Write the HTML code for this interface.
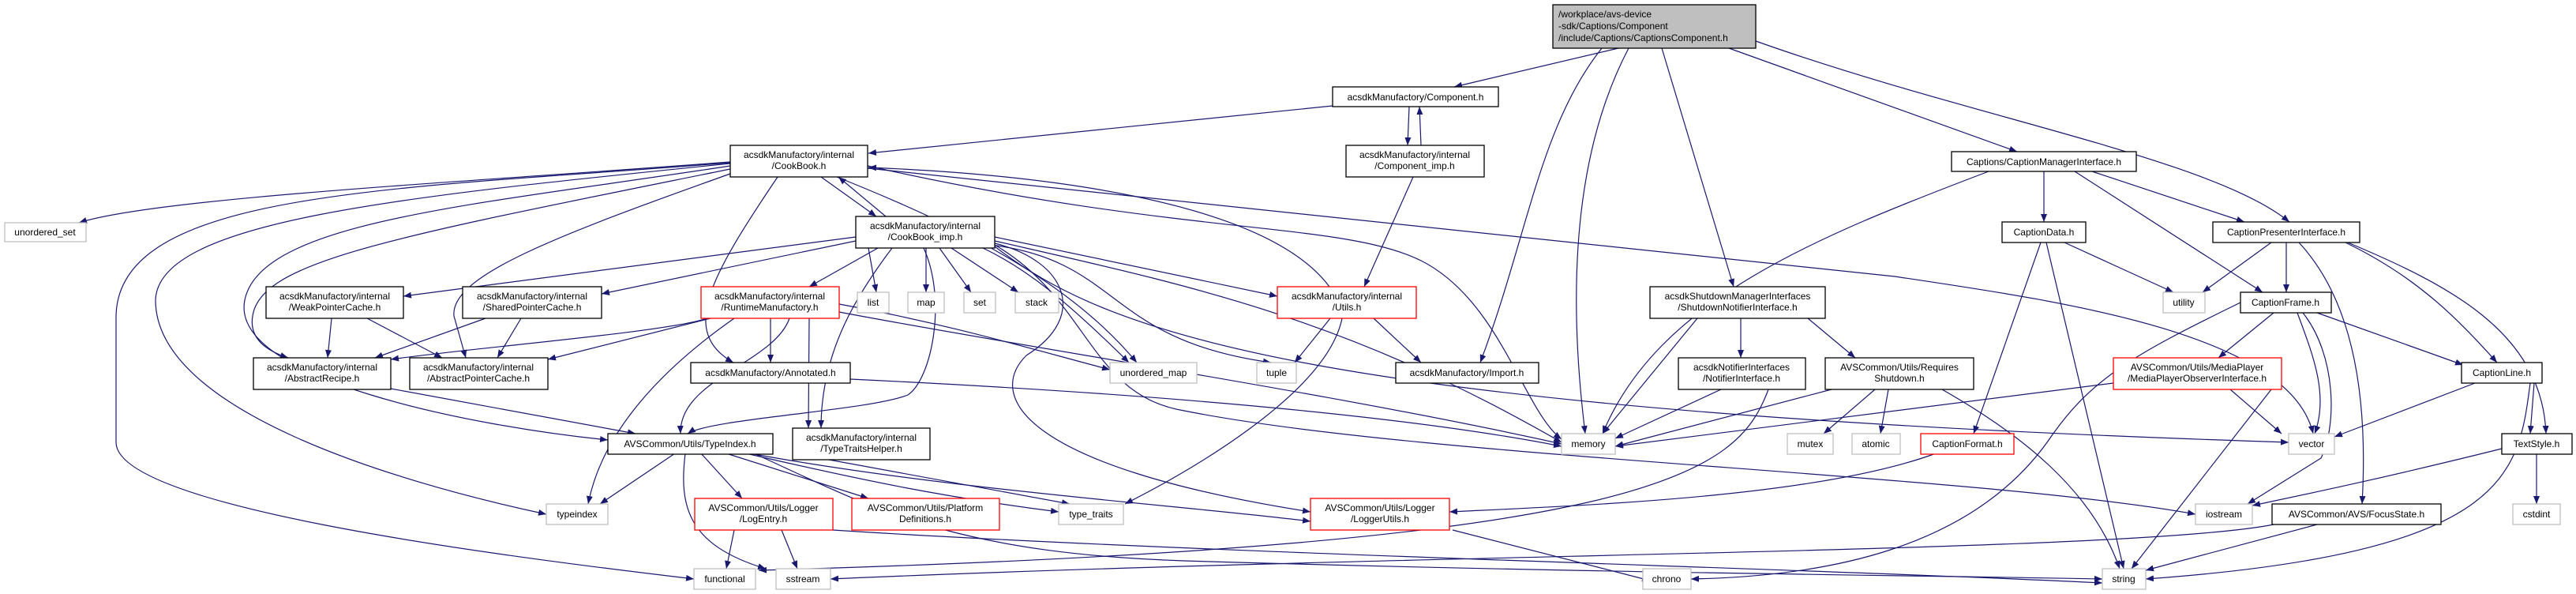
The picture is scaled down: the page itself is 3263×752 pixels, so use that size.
<!DOCTYPE html>
<html><head><meta charset="utf-8"><style>
html,body{margin:0;padding:0;background:#fff;}
svg{display:block;}
text{font-family:"Liberation Sans",sans-serif;font-size:12px;fill:#000;}
.e{fill:none;stroke:#191970;stroke-width:1.2;}
.n{fill:#fff;stroke:#000;stroke-width:1.3;}
.g{fill:#fff;stroke:#bfbfbf;stroke-width:1.3;}
.r{fill:#fff;stroke:#ff0000;stroke-width:1.3;}
</style></head><body>
<svg width="3263" height="752" viewBox="0 0 3263 752" xmlns="http://www.w3.org/2000/svg">
<defs><marker id="a" viewBox="0 0 10 8" refX="10" refY="4" markerWidth="10" markerHeight="8" markerUnits="userSpaceOnUse" orient="auto"><path d="M0,0 L10,4 L0,8 z" fill="#191970"/></marker></defs>
<g class="e" marker-end="url(#a)">
<!-- main -->
<path d="M2050,61 L1842,110"/>
<path d="M2029,61 C1950,160 1935,300 1875,459"/>
<path d="M2063,61 C1990,200 1987,380 2008,549"/>
<path d="M2105,61 L2196,363"/>
<path d="M2190,61 L2555,192"/>
<path d="M2224,52 C2500,150 2800,200 2900,281"/>
<!-- component -->
<path d="M1688,134 L1100,194"/>
<path d="M1785,135 L1783,184"/>
<path d="M1800,184 L1798,135"/>
<path d="M1790,224 L1728,363"/>
<!-- cookbook -->
<path d="M925,205 C600,230 200,250 100,282"/>
<path d="M925,206 C500,240 150,240 147,400 L147,560 C147,640 600,700 879,733"/>
<path d="M925,207 C500,250 200,280 197,380 C197,520 500,610 692,651"/>
<path d="M925,210 C600,260 330,280 310,380 C290,480 600,540 770,557"/>
<path d="M925,214 C500,300 330,330 320,400 C315,430 340,445 365,453"/>
<path d="M925,220 C700,300 570,350 575,400 L590,453"/>
<path d="M1040,224 L1110,274"/>
<path d="M1122,274 L1062,224"/>
<path d="M985,224 C900,350 860,420 929,459"/>
<path d="M1060,224 C1200,280 1350,350 1440,459"/>
<path d="M1099,210 C1500,300 1700,280 1800,330 C1900,380 1930,520 1978,556"/>
<path d="M1099,213 L2400,350 C2600,380 2900,420 2930,549"/>
<!-- cookbook_imp -->
<path d="M1100,314 L1110,370"/>
<path d="M1173,314 L1173,370"/>
<path d="M1190,314 L1230,370"/>
<path d="M1205,314 L1290,370"/>
<path d="M1084,300 L511,375"/>
<path d="M1084,305 L762,372"/>
<path d="M1112,314 L1025,363"/>
<path d="M1260,300 L1618,375"/>
<path d="M1245,314 C1300,340 1350,380 1430,459"/>
<path d="M1255,310 C1420,330 1400,430 1610,459"/>
<path d="M1260,305 C1500,360 1700,400 1978,560"/>
<path d="M1260,308 C1350,330 1380,400 1300,450 C1250,500 1290,590 1660,648"/>
<path d="M1260,310 C1380,380 1380,500 1500,520 C1800,580 2500,600 2781,651"/>
<path d="M1260,312 C1400,420 1650,520 2899,560"/>
<path d="M1130,314 C1080,380 1040,450 1040,542"/>
<path d="M1170,314 C1200,380 1180,480 1150,500 C1100,520 900,530 871,549"/>
<!-- utils -->
<path d="M1684,363 C1600,250 1300,220 1100,212"/>
<path d="M1685,403 L1640,459"/>
<path d="M1740,403 L1800,459"/>
<path d="M1700,403 C1680,500 1500,600 1425,638"/>
<!-- runtime -->
<path d="M900,403 L694,455"/>
<path d="M895,403 C850,420 600,440 495,455"/>
<path d="M976,403 L976,459"/>
<path d="M1000,403 C980,460 860,480 862,549"/>
<path d="M930,403 C820,480 760,560 745,638"/>
<path d="M1063,385 C1200,410 1300,440 1406,468"/>
<path d="M1063,395 C1300,440 1700,500 1978,562"/>
<path d="M1025,403 L1024,542"/>
<!-- weak/shared -->
<path d="M420,403 L415,453"/>
<path d="M465,403 L560,453"/>
<path d="M615,403 L475,453"/>
<path d="M660,403 L630,453"/>
<path d="M495,492 L805,549"/>
<path d="M1077,480 C1500,500 1800,530 1978,565"/>
<!-- typeindex -->
<path d="M855,574 L760,638"/>
<path d="M868,574 C860,640 870,690 970,720"/>
<path d="M888,574 L940,631"/>
<path d="M920,574 L1100,631"/>
<path d="M945,574 C1100,610 1200,630 1341,648"/>
<path d="M950,574 C1200,620 1500,640 1660,660"/>
<path d="M955,574 C1100,640 1200,700 1500,710 C2000,725 2400,728 2663,733"/>
<path d="M1050,582 L1355,638"/>
<path d="M930,671 L920,720"/>
<path d="M990,671 L1010,720"/>
<path d="M1055,671 C1500,700 2300,720 2663,738"/>
<path d="M1840,671 L2090,735"/>
<!-- right region -->
<path d="M2452,574 C2300,630 2000,640 1836,648"/>
<path d="M2838,383 C2700,450 2650,480 2600,550 C2500,700 2300,730 2142,733"/>
<path d="M2880,664 C2700,700 1800,700 1052,733"/>
<path d="M2240,493 C2200,600 2100,690 961,722"/>
<path d="M2150,403 L2030,549"/>
<path d="M2205,403 L2205,453"/>
<path d="M2290,403 L2350,453"/>
<path d="M2180,493 L2046,555"/>
<path d="M2320,493 L2046,565"/>
<path d="M2375,493 L2310,549"/>
<path d="M2392,493 L2382,549"/>
<path d="M2460,493 C2560,550 2650,620 2685,720"/>
<path d="M2519,217 C2300,300 2100,380 2030,549"/>
<path d="M2589,217 L2589,281"/>
<path d="M2650,217 L2843,281"/>
<path d="M2628,217 L2866,370"/>
<path d="M2615,307 L2753,370"/>
<path d="M2585,307 L2500,549"/>
<path d="M2592,307 L2690,720"/>
<path d="M2877,307 L2790,370"/>
<path d="M2896,307 L2896,370"/>
<path d="M2971,307 C3060,350 3110,400 3163,459"/>
<path d="M2974,307 C3100,360 3220,420 3225,549"/>
<path d="M2912,307 C2980,380 3000,500 2992,638"/>
<path d="M2880,396 L2810,453"/>
<path d="M2910,396 C2930,450 2950,500 2932,549"/>
<path d="M2917,396 C2960,450 2960,540 2940,580 L2847,638"/>
<path d="M2935,396 L3120,462"/>
<path d="M2877,493 L2700,720"/>
<path d="M2825,493 L2890,549"/>
<path d="M2677,485 L2046,565"/>
<path d="M3135,485 L2957,553"/>
<path d="M3210,485 L3205,549"/>
<path d="M3205,485 C3190,600 3180,700 2718,733"/>
<path d="M3169,568 C3000,610 2900,630 2853,640"/>
<path d="M3213,574 L3213,638"/>
<path d="M2935,664 L2718,722"/>
</g>
<!-- nodes -->
<rect x="1967" y="6" width="257" height="55" fill="#bfbfbf" stroke="#000" stroke-width="1.3"/>
<text x="1974" y="22">/workplace/avs-device</text><text x="1974" y="37">-sdk/Captions/Component</text><text x="1974" y="52">/include/Captions/CaptionsComponent.h</text>
<g font-size="12">
<rect class="n" x="1688" y="110" width="210" height="25"/><text x="1793" y="127" text-anchor="middle">acsdkManufactory/Component.h</text>
<rect class="n" x="1705" y="184" width="175" height="40"/><text x="1792" y="200" text-anchor="middle">acsdkManufactory/internal</text><text x="1792" y="214" text-anchor="middle">/Component_imp.h</text>
<rect class="n" x="925" y="184" width="174" height="40"/><text x="1012" y="200" text-anchor="middle">acsdkManufactory/internal</text><text x="1012" y="214" text-anchor="middle">/CookBook.h</text>
<rect class="n" x="1084" y="274" width="176" height="40"/><text x="1172" y="290" text-anchor="middle">acsdkManufactory/internal</text><text x="1172" y="304" text-anchor="middle">/CookBook_imp.h</text>
<rect class="g" x="6" y="282" width="103" height="24"/><text x="57" y="298" text-anchor="middle">unordered_set</text>
<rect class="n" x="337" y="363" width="174" height="40"/><text x="424" y="379" text-anchor="middle">acsdkManufactory/internal</text><text x="424" y="393" text-anchor="middle">/WeakPointerCache.h</text>
<rect class="n" x="586" y="363" width="176" height="40"/><text x="674" y="379" text-anchor="middle">acsdkManufactory/internal</text><text x="674" y="393" text-anchor="middle">/SharedPointerCache.h</text>
<rect class="r" x="888" y="363" width="175" height="40"/><text x="975" y="379" text-anchor="middle">acsdkManufactory/internal</text><text x="975" y="393" text-anchor="middle">/RuntimeManufactory.h</text>
<rect class="g" x="1086" y="370" width="40" height="26"/><text x="1106" y="387" text-anchor="middle">list</text>
<rect class="g" x="1150" y="370" width="46" height="26"/><text x="1173" y="387" text-anchor="middle">map</text>
<rect class="g" x="1221" y="370" width="40" height="26"/><text x="1241" y="387" text-anchor="middle">set</text>
<rect class="g" x="1286" y="370" width="55" height="26"/><text x="1313" y="387" text-anchor="middle">stack</text>
<rect class="r" x="1618" y="363" width="176" height="40"/><text x="1706" y="379" text-anchor="middle">acsdkManufactory/internal</text><text x="1706" y="393" text-anchor="middle">/Utils.h</text>
<rect class="n" x="2090" y="363" width="222" height="40"/><text x="2201" y="379" text-anchor="middle">acsdkShutdownManagerInterfaces</text><text x="2201" y="393" text-anchor="middle">/ShutdownNotifierInterface.h</text>
<rect class="n" x="321" y="453" width="174" height="40"/><text x="408" y="469" text-anchor="middle">acsdkManufactory/internal</text><text x="408" y="483" text-anchor="middle">/AbstractRecipe.h</text>
<rect class="n" x="519" y="453" width="175" height="40"/><text x="606" y="469" text-anchor="middle">acsdkManufactory/internal</text><text x="606" y="483" text-anchor="middle">/AbstractPointerCache.h</text>
<rect class="n" x="875" y="459" width="202" height="26"/><text x="976" y="476" text-anchor="middle">acsdkManufactory/Annotated.h</text>
<rect class="g" x="1406" y="459" width="110" height="26"/><text x="1461" y="476" text-anchor="middle">unordered_map</text>
<rect class="g" x="1592" y="459" width="50" height="26"/><text x="1617" y="476" text-anchor="middle">tuple</text>
<rect class="n" x="1768" y="459" width="181" height="26"/><text x="1858" y="476" text-anchor="middle">acsdkManufactory/Import.h</text>
<rect class="n" x="2126" y="453" width="161" height="40"/><text x="2206" y="469" text-anchor="middle">acsdkNotifierInterfaces</text><text x="2206" y="483" text-anchor="middle">/NotifierInterface.h</text>
<rect class="n" x="2312" y="453" width="188" height="40"/><text x="2406" y="469" text-anchor="middle">AVSCommon/Utils/Requires</text><text x="2406" y="483" text-anchor="middle">Shutdown.h</text>
<rect class="r" x="2677" y="453" width="213" height="40"/><text x="2783" y="469" text-anchor="middle">AVSCommon/Utils/MediaPlayer</text><text x="2783" y="483" text-anchor="middle">/MediaPlayerObserverInterface.h</text>
<rect class="n" x="3118" y="459" width="102" height="26"/><text x="3169" y="476" text-anchor="middle">CaptionLine.h</text>
<rect class="n" x="770" y="549" width="209" height="26"/><text x="874" y="566" text-anchor="middle">AVSCommon/Utils/TypeIndex.h</text>
<rect class="n" x="1004" y="542" width="174" height="40"/><text x="1091" y="558" text-anchor="middle">acsdkManufactory/internal</text><text x="1091" y="572" text-anchor="middle">/TypeTraitsHelper.h</text>
<rect class="g" x="1978" y="549" width="68" height="26"/><text x="2012" y="566" text-anchor="middle">memory</text>
<rect class="g" x="2264" y="549" width="58" height="26"/><text x="2293" y="566" text-anchor="middle">mutex</text>
<rect class="g" x="2346" y="549" width="61" height="26"/><text x="2376" y="566" text-anchor="middle">atomic</text>
<rect class="r" x="2433" y="549" width="118" height="26"/><text x="2492" y="566" text-anchor="middle">CaptionFormat.h</text>
<rect class="g" x="2899" y="549" width="58" height="26"/><text x="2928" y="566" text-anchor="middle">vector</text>
<rect class="n" x="3169" y="549" width="89" height="26"/><text x="3213" y="566" text-anchor="middle">TextStyle.h</text>
<rect class="g" x="692" y="638" width="78" height="26"/><text x="731" y="655" text-anchor="middle">typeindex</text>
<rect class="g" x="1341" y="638" width="82" height="26"/><text x="1382" y="655" text-anchor="middle">type_traits</text>
<rect class="r" x="880" y="631" width="175" height="40"/><text x="967" y="647" text-anchor="middle">AVSCommon/Utils/Logger</text><text x="967" y="661" text-anchor="middle">/LogEntry.h</text>
<rect class="r" x="1079" y="631" width="187" height="40"/><text x="1172" y="647" text-anchor="middle">AVSCommon/Utils/Platform</text><text x="1172" y="661" text-anchor="middle">Definitions.h</text>
<rect class="r" x="1660" y="631" width="176" height="40"/><text x="1748" y="647" text-anchor="middle">AVSCommon/Utils/Logger</text><text x="1748" y="661" text-anchor="middle">/LoggerUtils.h</text>
<rect class="g" x="2781" y="638" width="72" height="26"/><text x="2817" y="655" text-anchor="middle">iostream</text>
<rect class="n" x="2878" y="638" width="214" height="26"/><text x="2985" y="655" text-anchor="middle">AVSCommon/AVS/FocusState.h</text>
<rect class="g" x="3183" y="638" width="60" height="26"/><text x="3213" y="655" text-anchor="middle">cstdint</text>
<rect class="g" x="879" y="720" width="78" height="26"/><text x="918" y="737" text-anchor="middle">functional</text>
<rect class="g" x="983" y="720" width="69" height="26"/><text x="1017" y="737" text-anchor="middle">sstream</text>
<rect class="g" x="2081" y="720" width="61" height="26"/><text x="2111" y="737" text-anchor="middle">chrono</text>
<rect class="g" x="2663" y="720" width="55" height="26"/><text x="2690" y="737" text-anchor="middle">string</text>
<rect class="n" x="2472" y="192" width="234" height="25"/><text x="2589" y="209" text-anchor="middle">Captions/CaptionManagerInterface.h</text>
<rect class="n" x="2536" y="281" width="106" height="26"/><text x="2589" y="298" text-anchor="middle">CaptionData.h</text>
<rect class="n" x="2803" y="281" width="186" height="26"/><text x="2896" y="298" text-anchor="middle">CaptionPresenterInterface.h</text>
<rect class="g" x="2740" y="370" width="53" height="26"/><text x="2766" y="387" text-anchor="middle">utility</text>
<rect class="n" x="2838" y="370" width="115" height="26"/><text x="2895" y="387" text-anchor="middle">CaptionFrame.h</text>
</g>
</svg>
</body></html>
